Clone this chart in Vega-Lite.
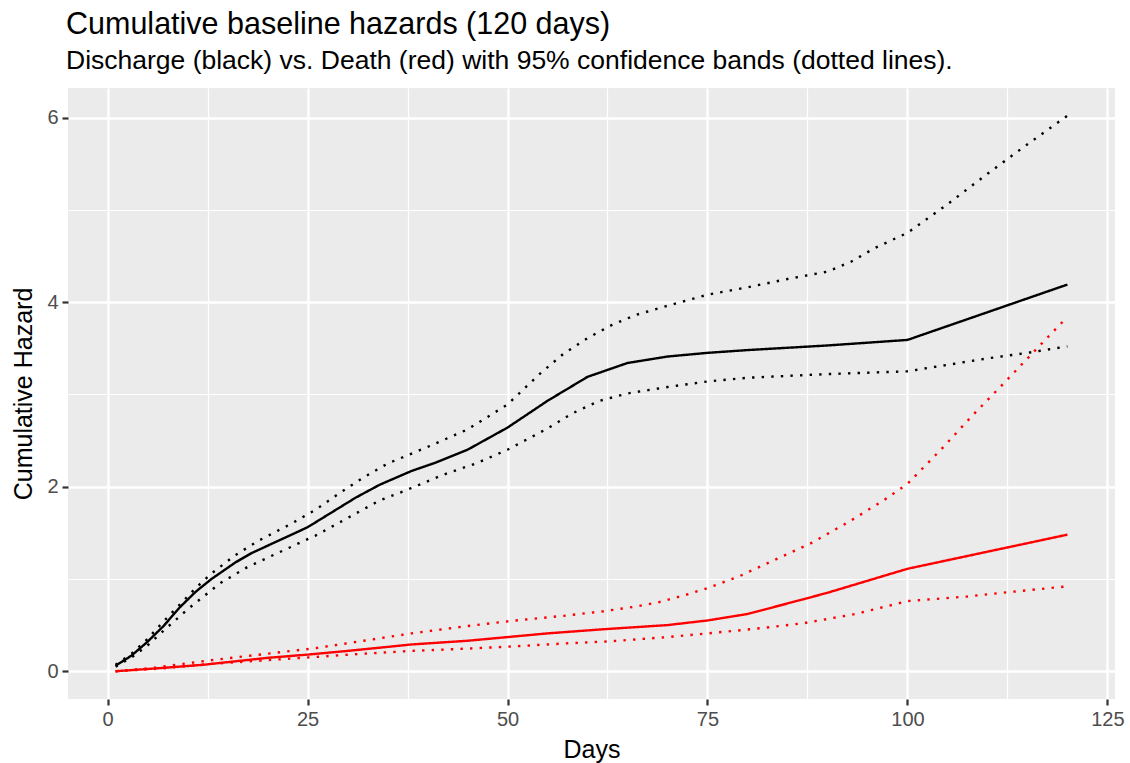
{
  "$schema": "https://vega.github.io/schema/vega-lite/v6.json",
  "width": 1047,
  "height": 611,
  "autosize": {"type": "none"},
  "padding": {"left": 68, "top": 88, "right": 15, "bottom": 64},
  "background": "white",
  "title": {
    "text": "Cumulative baseline hazards (120 days)",
    "subtitle": "Discharge (black) vs. Death (red) with 95% confidence bands (dotted lines).",
    "anchor": "start",
    "frame": "group",
    "font": "Liberation Sans",
    "subtitleFont": "Liberation Sans",
    "fontSize": 30.5,
    "subtitleFontSize": 26.5,
    "fontWeight": "normal",
    "color": "black",
    "subtitleColor": "black",
    "offset": 14,
    "subtitlePadding": 7,
    "dx": -2
  },
  "data": {
    "values": [
      {"event": "Discharge", "band": "estimate", "day": 1, "hazard": 0.06},
      {"event": "Discharge", "band": "estimate", "day": 3, "hazard": 0.17},
      {"event": "Discharge", "band": "estimate", "day": 5, "hazard": 0.32},
      {"event": "Discharge", "band": "estimate", "day": 7, "hazard": 0.49},
      {"event": "Discharge", "band": "estimate", "day": 9, "hazard": 0.69},
      {"event": "Discharge", "band": "estimate", "day": 11, "hazard": 0.86},
      {"event": "Discharge", "band": "estimate", "day": 13, "hazard": 1.0},
      {"event": "Discharge", "band": "estimate", "day": 16, "hazard": 1.18},
      {"event": "Discharge", "band": "estimate", "day": 18, "hazard": 1.28},
      {"event": "Discharge", "band": "estimate", "day": 22, "hazard": 1.44},
      {"event": "Discharge", "band": "estimate", "day": 25, "hazard": 1.56},
      {"event": "Discharge", "band": "estimate", "day": 28, "hazard": 1.72},
      {"event": "Discharge", "band": "estimate", "day": 31, "hazard": 1.88},
      {"event": "Discharge", "band": "estimate", "day": 34, "hazard": 2.02},
      {"event": "Discharge", "band": "estimate", "day": 38, "hazard": 2.17},
      {"event": "Discharge", "band": "estimate", "day": 41, "hazard": 2.26},
      {"event": "Discharge", "band": "estimate", "day": 45, "hazard": 2.4},
      {"event": "Discharge", "band": "estimate", "day": 50, "hazard": 2.64},
      {"event": "Discharge", "band": "estimate", "day": 55, "hazard": 2.93},
      {"event": "Discharge", "band": "estimate", "day": 60, "hazard": 3.19},
      {"event": "Discharge", "band": "estimate", "day": 65, "hazard": 3.34},
      {"event": "Discharge", "band": "estimate", "day": 70, "hazard": 3.41},
      {"event": "Discharge", "band": "estimate", "day": 75, "hazard": 3.45},
      {"event": "Discharge", "band": "estimate", "day": 80, "hazard": 3.48},
      {"event": "Discharge", "band": "estimate", "day": 90, "hazard": 3.53},
      {"event": "Discharge", "band": "estimate", "day": 100, "hazard": 3.59},
      {"event": "Discharge", "band": "estimate", "day": 120, "hazard": 4.19},

      {"event": "Discharge", "band": "upper", "day": 1, "hazard": 0.07},
      {"event": "Discharge", "band": "upper", "day": 3, "hazard": 0.19},
      {"event": "Discharge", "band": "upper", "day": 5, "hazard": 0.35},
      {"event": "Discharge", "band": "upper", "day": 7, "hazard": 0.54},
      {"event": "Discharge", "band": "upper", "day": 9, "hazard": 0.72},
      {"event": "Discharge", "band": "upper", "day": 11, "hazard": 0.9},
      {"event": "Discharge", "band": "upper", "day": 13, "hazard": 1.06},
      {"event": "Discharge", "band": "upper", "day": 16, "hazard": 1.26},
      {"event": "Discharge", "band": "upper", "day": 19, "hazard": 1.42},
      {"event": "Discharge", "band": "upper", "day": 23, "hazard": 1.6},
      {"event": "Discharge", "band": "upper", "day": 26, "hazard": 1.75},
      {"event": "Discharge", "band": "upper", "day": 29, "hazard": 1.93},
      {"event": "Discharge", "band": "upper", "day": 32, "hazard": 2.1},
      {"event": "Discharge", "band": "upper", "day": 35, "hazard": 2.25},
      {"event": "Discharge", "band": "upper", "day": 40, "hazard": 2.43},
      {"event": "Discharge", "band": "upper", "day": 45, "hazard": 2.62},
      {"event": "Discharge", "band": "upper", "day": 50, "hazard": 2.89},
      {"event": "Discharge", "band": "upper", "day": 54, "hazard": 3.22},
      {"event": "Discharge", "band": "upper", "day": 57, "hazard": 3.44},
      {"event": "Discharge", "band": "upper", "day": 60, "hazard": 3.61},
      {"event": "Discharge", "band": "upper", "day": 63, "hazard": 3.75},
      {"event": "Discharge", "band": "upper", "day": 66, "hazard": 3.86},
      {"event": "Discharge", "band": "upper", "day": 70, "hazard": 3.96},
      {"event": "Discharge", "band": "upper", "day": 75, "hazard": 4.08},
      {"event": "Discharge", "band": "upper", "day": 80, "hazard": 4.16},
      {"event": "Discharge", "band": "upper", "day": 85, "hazard": 4.25},
      {"event": "Discharge", "band": "upper", "day": 90, "hazard": 4.33},
      {"event": "Discharge", "band": "upper", "day": 93, "hazard": 4.44},
      {"event": "Discharge", "band": "upper", "day": 96, "hazard": 4.59},
      {"event": "Discharge", "band": "upper", "day": 100, "hazard": 4.75},
      {"event": "Discharge", "band": "upper", "day": 105, "hazard": 5.06},
      {"event": "Discharge", "band": "upper", "day": 110, "hazard": 5.39},
      {"event": "Discharge", "band": "upper", "day": 115, "hazard": 5.71},
      {"event": "Discharge", "band": "upper", "day": 120, "hazard": 6.02},

      {"event": "Discharge", "band": "lower", "day": 1, "hazard": 0.05},
      {"event": "Discharge", "band": "lower", "day": 3, "hazard": 0.15},
      {"event": "Discharge", "band": "lower", "day": 5, "hazard": 0.28},
      {"event": "Discharge", "band": "lower", "day": 7, "hazard": 0.44},
      {"event": "Discharge", "band": "lower", "day": 8.3, "hazard": 0.54},
      {"event": "Discharge", "band": "lower", "day": 10, "hazard": 0.67},
      {"event": "Discharge", "band": "lower", "day": 12, "hazard": 0.81},
      {"event": "Discharge", "band": "lower", "day": 14, "hazard": 0.95},
      {"event": "Discharge", "band": "lower", "day": 17.5, "hazard": 1.13},
      {"event": "Discharge", "band": "lower", "day": 22, "hazard": 1.31},
      {"event": "Discharge", "band": "lower", "day": 26, "hazard": 1.47},
      {"event": "Discharge", "band": "lower", "day": 30, "hazard": 1.66},
      {"event": "Discharge", "band": "lower", "day": 34, "hazard": 1.85},
      {"event": "Discharge", "band": "lower", "day": 37, "hazard": 1.95},
      {"event": "Discharge", "band": "lower", "day": 42, "hazard": 2.13},
      {"event": "Discharge", "band": "lower", "day": 46, "hazard": 2.25},
      {"event": "Discharge", "band": "lower", "day": 50, "hazard": 2.4},
      {"event": "Discharge", "band": "lower", "day": 55, "hazard": 2.63},
      {"event": "Discharge", "band": "lower", "day": 58, "hazard": 2.79},
      {"event": "Discharge", "band": "lower", "day": 61.5, "hazard": 2.93},
      {"event": "Discharge", "band": "lower", "day": 65, "hazard": 3.01},
      {"event": "Discharge", "band": "lower", "day": 70, "hazard": 3.08},
      {"event": "Discharge", "band": "lower", "day": 75, "hazard": 3.14},
      {"event": "Discharge", "band": "lower", "day": 80, "hazard": 3.18},
      {"event": "Discharge", "band": "lower", "day": 85, "hazard": 3.2},
      {"event": "Discharge", "band": "lower", "day": 90, "hazard": 3.22},
      {"event": "Discharge", "band": "lower", "day": 100, "hazard": 3.25},
      {"event": "Discharge", "band": "lower", "day": 105, "hazard": 3.32},
      {"event": "Discharge", "band": "lower", "day": 110, "hazard": 3.39},
      {"event": "Discharge", "band": "lower", "day": 115, "hazard": 3.45},
      {"event": "Discharge", "band": "lower", "day": 120, "hazard": 3.52},

      {"event": "Death", "band": "estimate", "day": 1, "hazard": 0.0},
      {"event": "Death", "band": "estimate", "day": 6, "hazard": 0.03},
      {"event": "Death", "band": "estimate", "day": 12, "hazard": 0.07},
      {"event": "Death", "band": "estimate", "day": 20, "hazard": 0.145},
      {"event": "Death", "band": "estimate", "day": 25, "hazard": 0.18},
      {"event": "Death", "band": "estimate", "day": 30, "hazard": 0.22},
      {"event": "Death", "band": "estimate", "day": 38, "hazard": 0.29},
      {"event": "Death", "band": "estimate", "day": 45, "hazard": 0.33},
      {"event": "Death", "band": "estimate", "day": 50, "hazard": 0.37},
      {"event": "Death", "band": "estimate", "day": 55, "hazard": 0.41},
      {"event": "Death", "band": "estimate", "day": 62, "hazard": 0.455},
      {"event": "Death", "band": "estimate", "day": 70, "hazard": 0.5},
      {"event": "Death", "band": "estimate", "day": 75, "hazard": 0.55},
      {"event": "Death", "band": "estimate", "day": 80, "hazard": 0.62},
      {"event": "Death", "band": "estimate", "day": 87, "hazard": 0.78},
      {"event": "Death", "band": "estimate", "day": 90, "hazard": 0.85},
      {"event": "Death", "band": "estimate", "day": 100, "hazard": 1.11},
      {"event": "Death", "band": "estimate", "day": 120, "hazard": 1.48},

      {"event": "Death", "band": "upper", "day": 1, "hazard": 0.0},
      {"event": "Death", "band": "upper", "day": 6, "hazard": 0.04},
      {"event": "Death", "band": "upper", "day": 13, "hazard": 0.12},
      {"event": "Death", "band": "upper", "day": 20, "hazard": 0.19},
      {"event": "Death", "band": "upper", "day": 26, "hazard": 0.25},
      {"event": "Death", "band": "upper", "day": 32, "hazard": 0.33},
      {"event": "Death", "band": "upper", "day": 38, "hazard": 0.41},
      {"event": "Death", "band": "upper", "day": 45, "hazard": 0.49},
      {"event": "Death", "band": "upper", "day": 51, "hazard": 0.55},
      {"event": "Death", "band": "upper", "day": 57, "hazard": 0.6},
      {"event": "Death", "band": "upper", "day": 62, "hazard": 0.65},
      {"event": "Death", "band": "upper", "day": 66, "hazard": 0.7},
      {"event": "Death", "band": "upper", "day": 69, "hazard": 0.75},
      {"event": "Death", "band": "upper", "day": 72, "hazard": 0.82},
      {"event": "Death", "band": "upper", "day": 75, "hazard": 0.9},
      {"event": "Death", "band": "upper", "day": 79, "hazard": 1.03},
      {"event": "Death", "band": "upper", "day": 83, "hazard": 1.19},
      {"event": "Death", "band": "upper", "day": 88, "hazard": 1.39},
      {"event": "Death", "band": "upper", "day": 92.5, "hazard": 1.61},
      {"event": "Death", "band": "upper", "day": 97, "hazard": 1.85},
      {"event": "Death", "band": "upper", "day": 100, "hazard": 2.03},
      {"event": "Death", "band": "upper", "day": 104.5, "hazard": 2.43},
      {"event": "Death", "band": "upper", "day": 108, "hazard": 2.76},
      {"event": "Death", "band": "upper", "day": 111.6, "hazard": 3.08},
      {"event": "Death", "band": "upper", "day": 116, "hazard": 3.48},
      {"event": "Death", "band": "upper", "day": 120, "hazard": 3.84},

      {"event": "Death", "band": "lower", "day": 1, "hazard": 0.0},
      {"event": "Death", "band": "lower", "day": 6, "hazard": 0.025},
      {"event": "Death", "band": "lower", "day": 13, "hazard": 0.08},
      {"event": "Death", "band": "lower", "day": 20, "hazard": 0.12},
      {"event": "Death", "band": "lower", "day": 26, "hazard": 0.155},
      {"event": "Death", "band": "lower", "day": 32, "hazard": 0.19},
      {"event": "Death", "band": "lower", "day": 38, "hazard": 0.22},
      {"event": "Death", "band": "lower", "day": 45, "hazard": 0.245},
      {"event": "Death", "band": "lower", "day": 51, "hazard": 0.27},
      {"event": "Death", "band": "lower", "day": 57, "hazard": 0.3},
      {"event": "Death", "band": "lower", "day": 63, "hazard": 0.325},
      {"event": "Death", "band": "lower", "day": 70, "hazard": 0.37},
      {"event": "Death", "band": "lower", "day": 75, "hazard": 0.41},
      {"event": "Death", "band": "lower", "day": 81, "hazard": 0.46},
      {"event": "Death", "band": "lower", "day": 87, "hazard": 0.52},
      {"event": "Death", "band": "lower", "day": 93.5, "hazard": 0.62},
      {"event": "Death", "band": "lower", "day": 100, "hazard": 0.76},
      {"event": "Death", "band": "lower", "day": 107.5, "hazard": 0.81},
      {"event": "Death", "band": "lower", "day": 113, "hazard": 0.86},
      {"event": "Death", "band": "lower", "day": 120, "hazard": 0.92}
    ]
  },
  "mark": {"type": "line", "strokeWidth": 2.4, "strokeCap": "butt", "clip": true},
  "encoding": {
    "x": {
      "field": "day",
      "type": "quantitative",
      "scale": {"domain": [-4.95, 125.95], "nice": false, "zero": false},
      "axis": {
        "title": "Days",
        "values": [0, 12.5, 25, 37.5, 50, 62.5, 75, 87.5, 100, 112.5, 125],
        "labelExpr": "datum.value % 25 === 0 ? datum.label : ''",
        "gridWidth": {"condition": {"test": "datum.value % 25 === 0", "value": 2.4}, "value": 1.2},
        "tickOpacity": {"condition": {"test": "datum.value % 25 === 0", "value": 1}, "value": 0},
        "titlePadding": 8
      }
    },
    "y": {
      "field": "hazard",
      "type": "quantitative",
      "scale": {"domain": [-0.301, 6.32], "nice": false, "zero": false},
      "axis": {
        "title": "Cumulative Hazard",
        "values": [0, 1, 2, 3, 4, 5, 6],
        "labelExpr": "datum.value % 2 === 0 ? datum.label : ''",
        "gridWidth": {"condition": {"test": "datum.value % 2 === 0", "value": 2.4}, "value": 1.2},
        "tickOpacity": {"condition": {"test": "datum.value % 2 === 0", "value": 1}, "value": 0},
        "titlePadding": 10
      }
    },
    "color": {
      "field": "event",
      "type": "nominal",
      "scale": {"domain": ["Discharge", "Death"], "range": ["black", "red"]},
      "legend": null
    },
    "strokeDash": {
      "field": "band",
      "type": "nominal",
      "scale": {"domain": ["estimate", "lower", "upper"], "range": [[1, 0], [2.4, 7.2], [2.4, 7.2]]},
      "legend": null
    },
    "order": {"field": "day", "type": "quantitative"}
  },
  "config": {
    "view": {"fill": "#EBEBEB", "stroke": null},
    "axis": {
      "domain": false,
      "grid": true,
      "gridColor": "white",
      "tickColor": "#333333",
      "tickWidth": 2.2,
      "tickSize": 6,
      "labelColor": "#4D4D4D",
      "labelFont": "Liberation Sans",
      "labelFontSize": 20,
      "labelPadding": 4,
      "titleFont": "Liberation Sans",
      "titleFontSize": 25,
      "titleFontWeight": "normal",
      "titleColor": "black"
    }
  }
}
